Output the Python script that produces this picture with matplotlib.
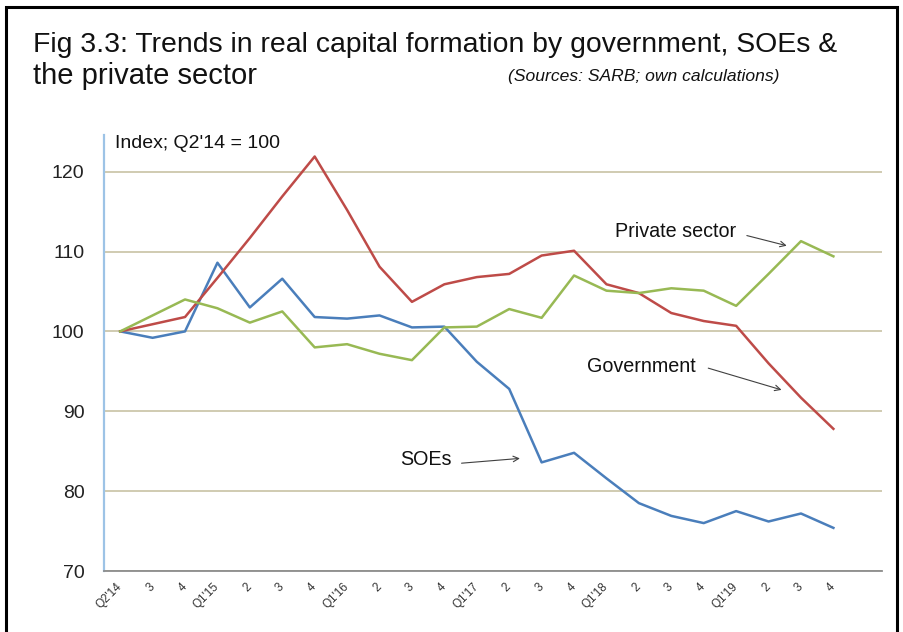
import matplotlib
matplotlib.use('Agg')
import matplotlib.pyplot as plt
from matplotlib.patches import Rectangle

plt.rcParams['font.family'] = ['Liberation Sans', 'DejaVu Sans']

quarters = ["Q2'14", "3", "4",
            "Q1'15", "2", "3", "4",
            "Q1'16", "2", "3", "4",
            "Q1'17", "2", "3", "4",
            "Q1'18", "2", "3", "4",
            "Q1'19", "2", "3", "4"]

government = [100.0, 100.9, 101.8, 106.7, 111.7, 116.9, 121.9, 115.2, 108.1, 103.7,
              105.9, 106.8, 107.2, 109.5, 110.1, 105.9, 104.8, 102.3, 101.3, 100.7,
              96.0, 91.7, 87.8]
soes = [100.0, 99.2, 100.0, 108.6, 103.0, 106.6, 101.8, 101.6, 102.0, 100.5,
        100.6, 96.2, 92.8, 83.6, 84.8, 81.6, 78.5, 76.9, 76.0, 77.5,
        76.2, 77.2, 75.4]
private = [100.0, 102.0, 104.0, 102.9, 101.1, 102.5, 98.0, 98.4, 97.2, 96.4,
           100.5, 100.6, 102.8, 101.7, 107.0, 105.1, 104.8, 105.4, 105.1, 103.2,
           107.2, 111.3, 109.4]

fig = plt.figure(figsize=(9.04, 6.32), dpi=100)
ax = fig.add_axes([0.115, 0.0965, 0.8607, 0.69])

x = range(len(quarters))
ax.plot(x, soes, color='#4a7ebb', lw=1.8, zorder=3)
ax.plot(x, government, color='#be4b48', lw=1.8, zorder=3)
ax.plot(x, private, color='#98b954', lw=1.8, zorder=3)

ax.set_xlim(-0.5, 23.5)
ax.set_ylim(70, 124.6)
ax.set_yticks([70, 80, 90, 100, 110, 120])
ax.yaxis.grid(True, color='#cdc7ab', lw=1.3)
ax.set_axisbelow(True)
ax.tick_params(axis='y', length=0, pad=14, labelsize=14, colors='#222222')
ax.set_xticks(list(x))
ax.set_xticklabels(quarters, rotation=45, ha='right', va='center',
                   rotation_mode='anchor', fontsize=8.5, color='#333333')
ax.tick_params(axis='x', length=0, pad=10)

for s in ['top', 'right']:
    ax.spines[s].set_visible(False)
ax.spines['left'].set_color('#9dc3e6')
ax.spines['left'].set_linewidth(1.6)
ax.spines['bottom'].set_color('#8c8c8c')
ax.spines['bottom'].set_linewidth(1.3)

# series labels with pointer arrows
arrow = dict(arrowstyle='->', color='#404040', lw=0.8, shrinkA=0, shrinkB=0)
ax.text(15.25, 112.5, 'Private sector', fontsize=14.2, va='center', color='#111111')
ax.annotate('', xy=(20.56, 110.73), xytext=(19.33, 112.0), arrowprops=arrow)
ax.text(14.39, 95.6, 'Government', fontsize=14.2, va='center', color='#111111')
ax.annotate('', xy=(20.40, 92.68), xytext=(18.14, 95.4), arrowprops=arrow)
ax.text(8.63, 83.9, 'SOEs', fontsize=14.2, va='center', color='#111111')
ax.annotate('', xy=(12.33, 84.1), xytext=(10.53, 83.5), arrowprops=arrow)

fig.text(115 / 904, 1 - 143 / 632, "Index; Q2'14 = 100", fontsize=14,
         va='center', color='#111111')

fig.text(33 / 904, 1 - 45 / 632,
         'Fig 3.3: Trends in real capital formation by government, SOEs &',
         fontsize=20.4, va='center', color='#111111')
fig.text(33 / 904, 1 - 76 / 632, 'the private sector', fontsize=21,
         va='center', color='#111111')
fig.text(508 / 904, 1 - 77 / 632, '(Sources: SARB; own calculations)',
         fontsize=12.6, style='italic', va='center', color='#111111')

# frame round the whole figure
fig.patches.append(Rectangle((6 / 904, -0.05), 891 / 904, 1.05 - 7 / 632,
                             transform=fig.transFigure, fill=False,
                             edgecolor='black', lw=2.2))

fig.savefig('out.png', dpi=100)
